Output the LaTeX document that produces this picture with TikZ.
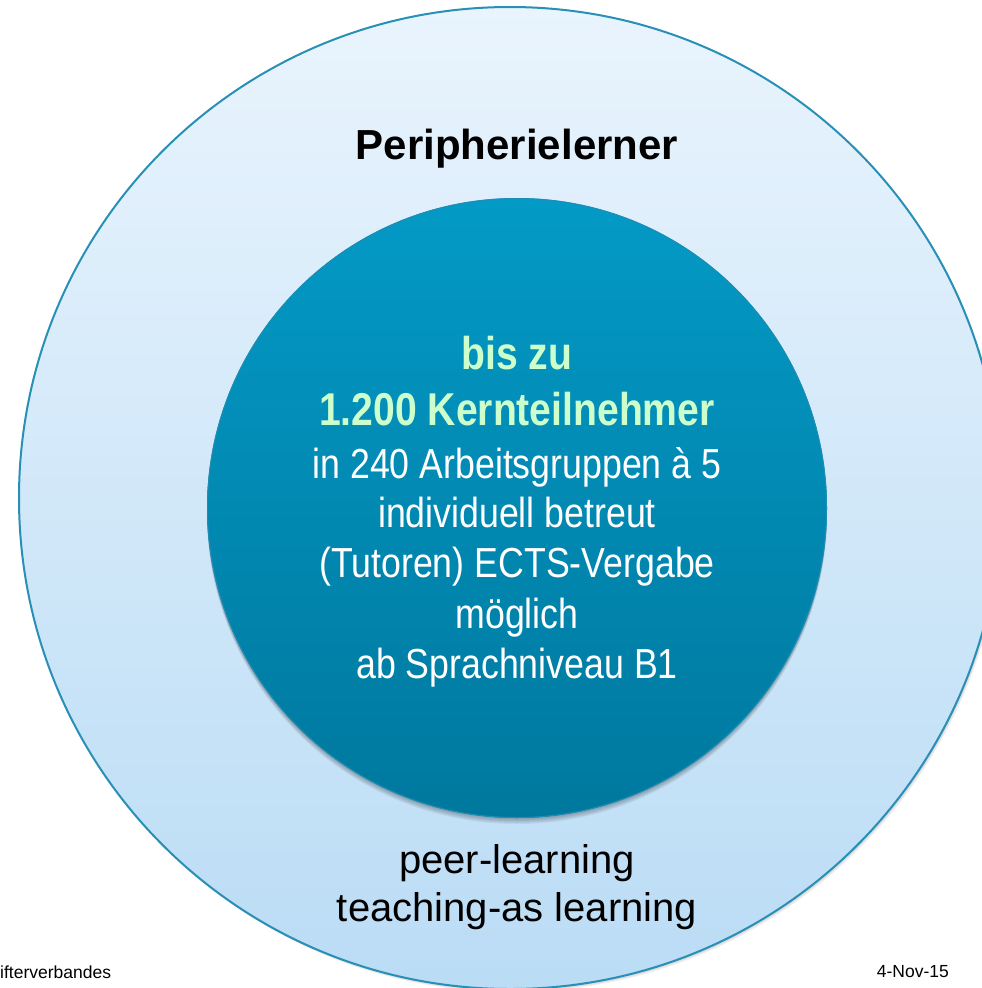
\documentclass[tikz,border=0pt]{standalone}
\usepackage{fontspec}
\setmainfont{Liberation Sans}
\newfontfamily\narrowfont[FakeStretch=0.85]{Liberation Sans}
\definecolor{outerTop}{RGB}{233,244,253}
\definecolor{outerBot}{RGB}{186,220,245}
\definecolor{outerLine}{RGB}{40,143,182}
\definecolor{innerTop}{RGB}{3,154,198}
\definecolor{innerBot}{RGB}{0,120,158}
\definecolor{innerEdge}{RGB}{30,140,180}
\definecolor{lightGreen}{RGB}{204,255,204}
\tikzset{
  txt/.style={anchor=base, inner sep=0pt},
  boldgreen/.style={txt, text=lightGreen, font=\narrowfont\bfseries\fontsize{46}{55}\selectfont},
  whiteline/.style={txt, text=white, font=\narrowfont\fontsize{42}{50}\selectfont},
  blackline/.style={txt, text=black, font=\fontsize{40}{48}\selectfont},
  footer/.style={inner sep=0pt, text=black, font=\fontsize{17.5}{20}\selectfont}
}
\begin{document}
\begin{tikzpicture}[x=1pt,y=-1pt]
\useasboundingbox (0,0) rectangle (982,988);
\begin{scope}
  \clip (0,0) rectangle (982,988);
  % outer circle with soft shadow
  \foreach \i in {1,...,4} {
    \fill[black, opacity=0.05] (510+0.6*\i,498+0.8*\i) circle (491pt);
  }
  \shade[top color=outerTop, bottom color=outerBot] (510,498) circle (491pt);
  \draw[outerLine, line width=2pt] (510,498) circle (491pt);
  % inner circle with soft shadow
  \foreach \i in {1,...,6} {
    \fill[black, opacity=0.05] (517,508+\i) circle (310pt);
  }
  \shade[top color=innerTop, bottom color=innerBot] (517,508) circle (310pt);
  \draw[innerEdge, line width=1pt] (517,508) circle (309.5pt);
\end{scope}
% texts
\node[txt, font=\bfseries\fontsize{42}{50}\selectfont] (peri) at (517,159) {Peripherielerner};
\node[boldgreen] (bis) at (517,369) {bis zu};
\node[boldgreen] (kern) at (517,425) {1.200 Kernteilnehmer};
\node[whiteline] (l1) at (517,478) {in 240 Arbeitsgruppen à 5};
\node[whiteline] (l2) at (517,527) {individuell betreut};
\node[whiteline] (l3) at (517,577) {(Tutoren) ECTS-Vergabe};
\node[whiteline] (l4) at (517,628) {möglich};
\node[whiteline] (l5) at (517,678) {ab Sprachniveau B1};
\node[blackline] (peer) at (517,873) {peer-learning};
\node[blackline] (teach) at (517,921) {teaching-as learning};
\node[footer, anchor=base west] (fl) at (0,978) {ifterverbandes};
\node[footer, anchor=base east] (fr) at (949,977) {4-Nov-15};
\end{tikzpicture}
\end{document}
